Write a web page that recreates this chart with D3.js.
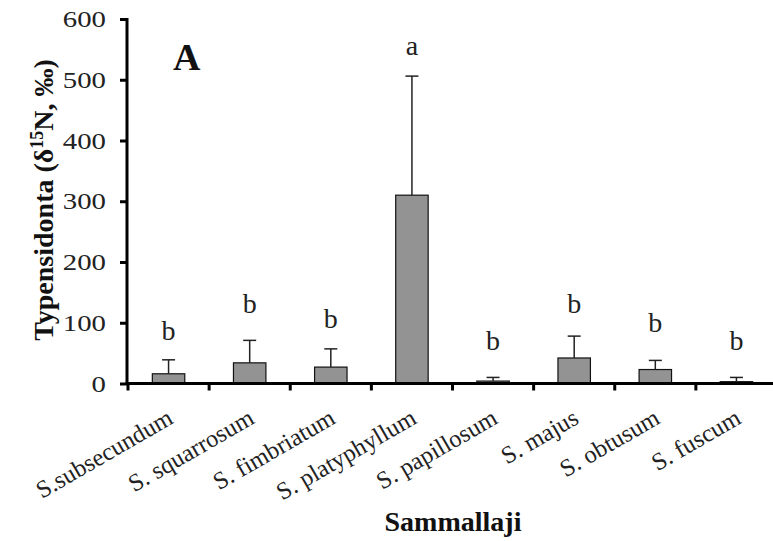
<!DOCTYPE html>
<html>
<head>
<meta charset="utf-8">
<script src="https://cdn.jsdelivr.net/npm/d3@7"></script>
<style>
  html, body { margin: 0; padding: 0; background: #fff; }
  svg { display: block; }
  text { font-family: "Liberation Serif", "Times New Roman", serif; }
</style>
</head>
<body>
<svg id="chart" width="773" height="541"></svg>
<script>
// Sphagnum species and their mean δ15N-based values with standard deviations
const categories = ["S.subsecundum", "S. squarrosum", "S. fimbriatum", "S. platyphyllum",
                    "S. papillosum", "S. majus", "S. obtusum", "S. fuscum"];
const means = [16, 34, 27, 310, 4, 42, 23, 3];
const sds = [23, 37, 30, 196, 6, 36, 15, 7];
// Significance groups and the heights (in axis units) at which they are written
const groups = ["b", "b", "b", "a", "b", "b", "b", "b"];
const groupHeights = [71, 116, 91, 540, 55, 116, 84, 55];
const yTicks = [0, 100, 200, 300, 400, 500, 600];

const svg = d3.select("#chart");

const x = d3.scaleBand()
  .domain(categories)
  .range([128, 777])
  .paddingInner(0.6)
  .paddingOuter(0.3);

const y = d3.scaleLinear().domain([0, 600]).range([383.5, 19]);

const step = x.step();
const x0 = x.range()[0];

// bars
svg.append("g").selectAll("rect")
  .data(categories)
  .join("rect")
  .attr("x", d => x(d))
  .attr("width", x.bandwidth())
  .attr("y", (d, i) => y(means[i]))
  .attr("height", (d, i) => y(0) - y(means[i]))
  .attr("fill", "#939393")
  .attr("stroke", "#111")
  .attr("stroke-width", 1.2);

// upper error bars
const err = svg.append("g").attr("stroke", "#222").attr("stroke-width", 1.5);
categories.forEach((c, i) => {
  const cx = x(c) + x.bandwidth() / 2;
  err.append("line")
    .attr("x1", cx).attr("x2", cx)
    .attr("y1", y(means[i])).attr("y2", y(means[i] + sds[i]));
  err.append("line")
    .attr("x1", cx - 6.5).attr("x2", cx + 6.5)
    .attr("y1", y(means[i] + sds[i])).attr("y2", y(means[i] + sds[i]));
});

// significance letters
svg.append("g").selectAll("text")
  .data(categories)
  .join("text")
  .attr("x", d => x(d) + x.bandwidth() / 2)
  .attr("y", (d, i) => y(groupHeights[i]))
  .attr("text-anchor", "middle")
  .attr("font-size", 28)
  .attr("fill", "#222")
  .text((d, i) => groups[i]);

// y axis (labels drawn slightly widened)
const stretch = 1.2;
const yAxis = svg.append("g")
  .attr("transform", "translate(127,0)")
  .call(d3.axisLeft(y).tickValues(yTicks).tickSize(7).tickFormat(d3.format("d")));
yAxis.select(".domain").attr("stroke", "#000").attr("stroke-width", 3)
  .attr("d", `M0,${y(600) - 1}V${y(0) + 1.5}`);
yAxis.selectAll(".tick line").attr("stroke", "#000").attr("stroke-width", 3);
yAxis.selectAll(".tick text")
  .attr("font-family", "Liberation Serif, serif")
  .attr("font-size", 24)
  .attr("fill", "#222")
  .attr("transform", `scale(${stretch},1)`)
  .attr("x", -21 / stretch);

// x axis line with ticks at category boundaries
const xAxis = svg.append("g");
xAxis.append("line")
  .attr("x1", 125.5).attr("x2", 773)
  .attr("y1", y(0)).attr("y2", y(0))
  .attr("stroke", "#000").attr("stroke-width", 3);
xAxis.selectAll("line.tick")
  .data(d3.range(categories.length + 1))
  .join("line")
  .attr("class", "tick")
  .attr("x1", i => x0 + i * step).attr("x2", i => x0 + i * step)
  .attr("y1", y(0)).attr("y2", y(0) + 7)
  .attr("stroke", "#000").attr("stroke-width", 3);

// rotated category labels
xAxis.selectAll("text")
  .data(categories)
  .join("text")
  .attr("transform", d => `translate(${x(d) + x.bandwidth() / 2 + 6},${y(0) + 39}) rotate(-30)`)
  .attr("text-anchor", "end")
  .attr("font-size", 24.5)
  .attr("fill", "#222")
  .text(d => d);

// axis titles
svg.append("text")
  .attr("transform", "translate(53,200) rotate(-90)")
  .attr("text-anchor", "middle")
  .attr("font-size", 28)
  .attr("font-weight", "bold")
  .attr("fill", "#111")
  .html('Typensidonta (δ<tspan baseline-shift="super" font-size="18">15</tspan>N, ‰)');

svg.append("text")
  .attr("x", 453)
  .attr("y", 531)
  .attr("text-anchor", "middle")
  .attr("font-size", 28)
  .attr("font-weight", "bold")
  .attr("fill", "#111")
  .text("Sammallaji");

// panel letter
svg.append("text")
  .attr("x", 173)
  .attr("y", 70)
  .attr("font-size", 38)
  .attr("font-weight", "bold")
  .attr("fill", "#111")
  .text("A");
</script>
</body>
</html>
